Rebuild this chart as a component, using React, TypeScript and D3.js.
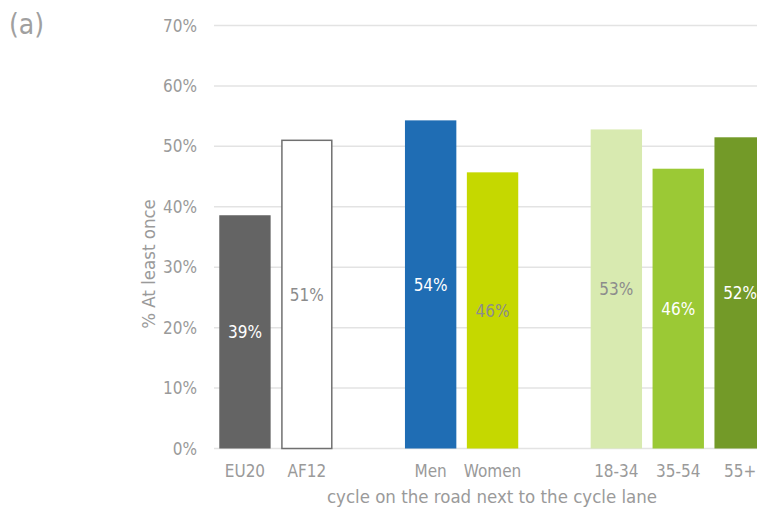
import React from "react";
import * as d3 from "d3";

const categories = ["EU20", "AF12", "Men", "Women", "18-34", "35-54", "55+"];
const slots = ["EU20", "AF12", "gap1", "Men", "Women", "gap2", "18-34", "35-54", "55+"];
const values = [38.6, 51.0, 54.3, 45.7, 52.8, 46.3, 51.5];
const labels = ["39%", "51%", "54%", "46%", "53%", "46%", "52%"];
const fills = ["#646464", "#ffffff", "#1f6db4", "#c5d800", "#d8eab0", "#9bc935", "#739a28"];
const strokes = ["none", "#707070", "none", "none", "none", "none", "none"];
const labelColors = ["#ffffff", "#8c8c8c", "#ffffff", "#8c8c8c", "#8c8c8c", "#ffffff", "#ffffff"];
const yTicks = [0, 10, 20, 30, 40, 50, 60, 70];

const W = 757;
const H = 514;
const FONT = "'DejaVu Sans Condensed', 'DejaVu Sans', Verdana, sans-serif";

export default function App() {
  const x = d3.scaleBand<string>().domain(slots).range([214, 214 + 9 * 61.9]).paddingInner(0.17).paddingOuter(0.085);
  const y = d3.scaleLinear().domain([0, 70]).range([448.5, 25.5]);
  return (
    <svg width={W} height={H} style={{ position: "absolute", left: 0, top: 0, background: "#fff" }} fontFamily={FONT}>
      <text x={9} y={34} fontSize={28} fill="#a0a0a0">(a)</text>
      {yTicks.map((t) => (
        <g key={t}>
          <line x1={214} x2={W} y1={y(t)} y2={y(t)} stroke="#e3e3e3" strokeWidth={1.5} />
          <text x={197} y={y(t)} dy="0.36em" textAnchor="end" fontSize={17} fill="#9a9a9a">{t}%</text>
        </g>
      ))}
      {categories.map((c, i) => {
        const x0 = x(c) as number;
        const bw = x.bandwidth();
        const top = y(values[i]);
        const bottom = y(0);
        return (
          <g key={c}>
            <rect
              x={strokes[i] === "none" ? x0 : x0 + 0.75}
              y={top}
              width={strokes[i] === "none" ? bw : bw - 1.5}
              height={bottom - top}
              fill={fills[i]}
              stroke={strokes[i]}
              strokeWidth={1.5}
            />
            <text x={x0 + bw / 2} y={(top + bottom) / 2} dy="0.36em" textAnchor="middle" fontSize={17} fill={labelColors[i]}>{labels[i]}</text>
            <text x={x0 + bw / 2} y={477} textAnchor="middle" fontSize={17} fill="#9a9a9a">{c}</text>
          </g>
        );
      })}
      <text x={492} y={503} textAnchor="middle" fontSize={18.5} fill="#9a9a9a">cycle on the road next to the cycle lane</text>
      <text transform={`translate(155, 264) rotate(-90)`} textAnchor="middle" fontSize={18.5} fill="#9a9a9a">% At least once</text>
    </svg>
  );
}
